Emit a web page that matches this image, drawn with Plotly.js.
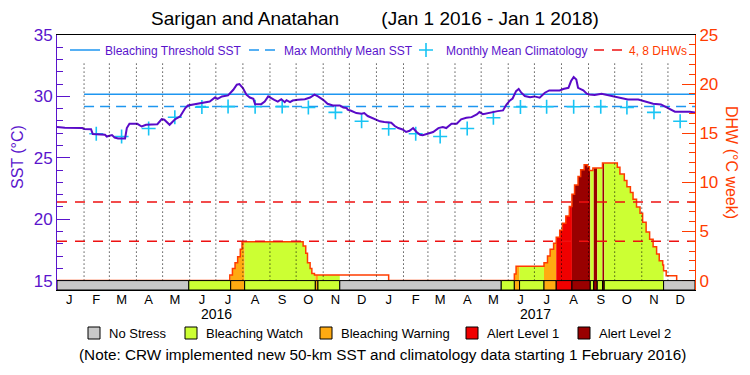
<!DOCTYPE html>
<html><head><meta charset="utf-8">
<script src="https://cdn.plot.ly/plotly-3.0.1.min.js"></script>
<style>html,body{margin:0;padding:0;background:#fff}</style>
</head><body><div id="chart" style="width:750px;height:375px"></div>
<script>
// ---------- DATA ----------
const periodStart = '2016-01-01';
const periodEnd = '2018-01-01';
const newDataStart = '2016-02-01';

const sstDates = ['2016-01-01','2016-01-10','2016-01-30','2016-02-01','2016-02-09','2016-02-11','2016-02-25','2016-02-27','2016-03-04','2016-03-07','2016-03-11','2016-03-19','2016-03-21','2016-03-24','2016-04-02','2016-04-07','2016-04-12','2016-04-25','2016-04-30','2016-05-03','2016-05-09','2016-05-15','2016-05-21','2016-05-27','2016-05-30','2016-06-07','2016-06-14','2016-06-18','2016-06-24','2016-06-30','2016-07-03','2016-07-08','2016-07-15','2016-07-21','2016-07-25','2016-07-28','2016-08-01','2016-08-05','2016-08-09','2016-08-13','2016-08-15','2016-08-22','2016-08-26','2016-08-30','2016-09-03','2016-09-06','2016-09-10','2016-09-14','2016-09-18','2016-09-20','2016-09-24','2016-09-27','2016-10-03','2016-10-11','2016-10-17','2016-10-22','2016-10-26','2016-11-01','2016-11-06','2016-11-12','2016-11-20','2016-11-24','2016-11-28','2016-11-29','2016-12-03','2016-12-09','2016-12-15','2016-12-18','2016-12-22','2016-12-30','2017-01-05','2017-01-10','2017-01-18','2017-01-22','2017-01-26','2017-01-31','2017-02-04','2017-02-08','2017-02-12','2017-02-16','2017-02-20','2017-02-23','2017-03-01','2017-03-07','2017-03-13','2017-03-18','2017-03-22','2017-03-28','2017-04-03','2017-04-08','2017-04-14','2017-04-20','2017-04-26','2017-04-29','2017-05-03','2017-05-07','2017-05-13','2017-05-20','2017-05-26','2017-05-30','2017-06-03','2017-06-06','2017-06-10','2017-06-13','2017-06-16','2017-06-20','2017-06-26','2017-07-01','2017-07-07','2017-07-13','2017-07-18','2017-07-30','2017-08-03','2017-08-09','2017-08-12','2017-08-15','2017-08-18','2017-08-20','2017-08-26','2017-08-30','2017-09-02','2017-09-08','2017-09-16','2017-09-23','2017-10-01','2017-10-10','2017-10-16','2017-10-28','2017-11-04','2017-11-14','2017-11-23','2017-11-29','2017-12-05','2017-12-09','2017-12-26','2018-01-01'];
const sstValues = [27.50,27.45,27.42,27.35,27.33,26.93,26.87,26.73,26.85,26.65,26.57,26.57,27.42,27.77,27.77,27.55,27.69,27.74,28.15,28.10,27.69,28.12,28.37,29.05,29.26,29.37,29.42,29.53,29.58,29.91,29.80,30.00,30.08,30.54,30.95,31.00,30.68,30.14,29.91,29.80,29.37,29.37,29.58,30.00,29.80,29.72,29.58,29.77,29.53,29.69,29.53,29.66,29.72,29.77,29.91,30.14,30.00,29.72,29.40,29.26,29.26,29.10,29.05,28.91,28.83,28.64,28.59,28.64,28.40,28.13,27.97,27.91,27.86,27.59,27.42,27.31,27.10,27.20,27.42,27.10,26.88,26.83,26.97,27.10,27.42,27.50,27.42,27.77,27.77,28.13,28.26,28.31,28.53,28.72,28.55,28.61,28.75,28.80,28.86,29.34,29.67,29.83,30.43,30.60,30.30,30.03,29.94,30.00,29.89,30.30,30.49,30.49,30.60,30.70,31.25,31.57,31.38,30.70,30.49,30.22,30.16,30.11,30.22,30.11,30.03,29.89,29.75,29.75,29.62,29.40,29.35,29.13,28.86,28.75,28.75,28.69];

const climDates = ['2016-02-15','2016-03-15','2016-04-15','2016-05-15','2016-06-15','2016-07-15','2016-08-15','2016-09-15','2016-10-15','2016-11-15','2016-12-15','2017-01-15','2017-02-15','2017-03-15','2017-04-15','2017-05-15','2017-06-15','2017-07-15','2017-08-15','2017-09-15','2017-10-15','2017-11-15','2017-12-15'];
const climValues = [26.96,26.74,27.39,28.30,29.13,29.17,29.16,29.17,29.10,28.70,27.97,27.36,26.96,26.74,27.39,28.26,29.14,29.16,29.16,29.16,29.10,28.70,27.98];

const bleachingThreshold = 30.18;
const maxMonthlyMean = 29.18;
const dhwLevels = [4, 8];

const dhwDates = ['2016-01-01','2016-07-17','2016-07-20','2016-07-23','2016-07-26','2016-07-29','2016-07-31','2016-10-09','2016-10-12','2016-10-14','2016-10-17','2016-10-19','2016-10-22','2017-01-15','2017-06-08','2017-06-10','2017-07-12','2017-07-16','2017-07-19','2017-07-23','2017-07-26','2017-07-30','2017-08-02','2017-08-06','2017-08-10','2017-08-13','2017-08-16','2017-08-20','2017-08-23','2017-08-27','2017-08-31','2017-09-02','2017-09-06','2017-09-17','2017-10-04','2017-10-07','2017-10-12','2017-10-15','2017-10-19','2017-10-22','2017-10-26','2017-10-30','2017-11-02','2017-11-06','2017-11-10','2017-11-14','2017-11-18','2017-11-21','2017-11-25','2017-11-26','2017-11-29','2017-12-11'];
const dhwValues = [0,0.56,1.24,1.82,2.43,3.18,3.96,3.52,2.78,1.82,1.24,0.73,0.56,0,0.66,1.45,1.82,2.5,3.18,3.8,4.4,5.12,5.84,6.58,7.53,8.8,9.74,10.6,11.28,11.79,11.6,11.2,11.45,11.96,11.55,10.84,10.18,9.54,8.96,8.28,7.5,6.86,5.94,4.95,4.2,3.45,2.7,2.02,1.58,1.0,0.49,0];

const statusStarts = ['2016-01-01','2016-05-31','2016-07-18','2016-08-03','2016-10-23','2016-10-26','2016-11-20','2017-05-24','2017-06-08','2017-06-14','2017-07-12','2017-07-26','2017-08-13','2017-09-03','2017-09-07','2017-09-11','2017-09-17','2017-09-19','2017-11-26'];
const statusLevels = [0,1,2,1,2,1,0,1,2,1,2,3,4,1,4,1,4,1,0];
const statusNames = ['No Stress','Bleaching Watch','Bleaching Warning','Alert Level 1','Alert Level 2'];

const monthLetters = ['J','F','M','A','M','J','J','A','S','O','N','D'];
const yearLabels = ['2016','2017'];

// ---------- STYLE ----------
const FONT = 'Liberation Sans, Arial, sans-serif';
const PURPLE = '#5a14cc';
const SSTCOL = '#5a0ac8';
const ORANGE = '#ff3c00';
const CYAN = '#1e96f0';
const CYANMK = '#18c4f4';
const DHWRED = '#ee1111';
const statusColors = ['#c8c8c8','#ccff33','#ffaa11','#f00000','#990000'];
const Y1RANGE = [14.233, 35];
const Y2RANGE = [-0.958, 25];
const W = 750, H = 375, ML = 57, MR = 55, MT = 35, MB = 85;
const PW = W - ML - MR, PH = H - MT - MB;
const px = x => (x - ML) / PW;
const py = y => (H - MB - y) / PH;
const NB = '\u00a0';

// ---------- TRACES ----------
const traces = [];
const T = dhwDates.map(d => Date.parse(d));
function dhwAt(t){ let v = 0; for (let i = 0; i < T.length; i++){ if (T[i] <= t) v = dhwValues[i]; else break; } return v; }
const statusEnds = statusStarts.slice(1).concat([periodEnd]);

statusStarts.forEach((s, i) => {
  const lvl = statusLevels[i];
  if (!lvl) return;
  const e = statusEnds[i];
  const ts = Date.parse(s), te = Date.parse(e);
  const xs = [s], ys = [dhwAt(ts)];
  T.forEach((t, j) => { if (t > ts && t < te){ xs.push(dhwDates[j]); ys.push(dhwValues[j]); } });
  xs.push(e); ys.push(ys[ys.length - 1]);
  traces.push({x: xs, y: ys, yaxis: 'y2', mode: 'lines', line: {shape: 'hv', width: 0, color: statusColors[lvl]},
    fill: 'tozeroy', fillcolor: statusColors[lvl], showlegend: false, hoverinfo: 'skip'});
});

traces.push({x: dhwDates, y: dhwValues, yaxis: 'y2', mode: 'lines', line: {shape: 'hv', width: 1.5, color: ORANGE}, showlegend: false, hoverinfo: 'skip'});

traces.push({x: [newDataStart, periodEnd], y: [bleachingThreshold, bleachingThreshold], mode: 'lines',
  line: {color: CYAN, width: 1.5}, name: 'Bleaching Threshold SST', legend: 'legend'});
traces.push({x: [newDataStart, periodEnd], y: [maxMonthlyMean, maxMonthlyMean], mode: 'lines',
  line: {color: CYAN, width: 1.5, dash: '10px,6px'}, name: 'Max Monthly Mean SST', legend: 'legend'});
traces.push({x: climDates, y: climValues, mode: 'markers',
  marker: {symbol: 'cross-thin-open', size: 10, color: CYANMK, line: {color: CYANMK, width: 1.6}}, name: 'Monthly Mean Climatology', legend: 'legend2'});
const lvX = [], lvY = [];
dhwLevels.forEach(l => { lvX.push(periodStart, periodEnd, null); lvY.push(l, l, null); });
traces.push({x: lvX, y: lvY, yaxis: 'y2', mode: 'lines', line: {color: DHWRED, width: 1.5, dash: '10px,8px'},
  name: '<span style="color:' + ORANGE + '">4, 8 DHWs</span>', legend: 'legend3'});

traces.push({x: sstDates, y: sstValues, mode: 'lines', line: {color: SSTCOL, width: 2}, showlegend: false, hoverinfo: 'skip'});

// ---------- LAYOUT ----------
const shapes = [];
statusStarts.forEach((s, i) => {
  shapes.push({type: 'rect', xref: 'x', yref: 'y2', x0: s, x1: statusEnds[i], y0: Y2RANGE[0], y1: 0,
    fillcolor: statusColors[statusLevels[i]], line: {color: '#000', width: 1}, layer: 'above'});
});
const tickVals = [], tickText = [], monthStarts = [];
yearLabels.forEach(y => {
  monthLetters.forEach((m, k) => {
    const mm = String(k + 1).padStart(2, '0');
    tickVals.push(y + '-' + mm + '-15'); tickText.push(m);
    if (!(y === yearLabels[0] && k === 0)) monthStarts.push(y + '-' + mm + '-01');
  });
});
monthStarts.forEach(d => {
  shapes.push({type: 'line', xref: 'x', yref: 'y2', x0: d, x1: d, y0: 0, y1: 22.3,
    line: {color: '#000', width: 1, dash: '1px,3px'}, layer: 'above'});
});

const annotations = [];
yearLabels.forEach(y => annotations.push({x: y + '-07-02', xref: 'x', y: py(314), yref: 'paper', text: y,
  showarrow: false, font: {family: FONT, size: 14, color: '#000'}, xanchor: 'center', yanchor: 'middle'}));
annotations.push({x: px(17), xref: 'paper', y: py(157), yref: 'paper', text: 'SST (°C)', textangle: -90,
  showarrow: false, font: {family: FONT, size: 16, color: PURPLE}, xanchor: 'center', yanchor: 'middle'});
annotations.push({x: px(732), xref: 'paper', y: py(162), yref: 'paper', text: 'DHW (°C week)', textangle: 90,
  showarrow: false, font: {family: FONT, size: 16, color: ORANGE}, xanchor: 'center', yanchor: 'middle'});

const boxX = [88, 185, 320, 466, 578];
statusNames.forEach((n, i) => {
  shapes.push({type: 'rect', xref: 'paper', yref: 'paper', x0: px(boxX[i]), x1: px(boxX[i] + 12), y0: py(339), y1: py(327),
    fillcolor: statusColors[i], line: {color: '#000', width: 1}});
  annotations.push({x: px(boxX[i] + 19), xref: 'paper', y: py(333), yref: 'paper', text: n, xanchor: 'left', yanchor: 'middle',
    showarrow: false, font: {family: FONT, size: 13, color: '#000'}});
});
annotations.push({x: px(382), xref: 'paper', y: py(354), yref: 'paper', text: '(Note: CRW implemented new 50-km SST and climatology data starting 1 February 2016)',
  showarrow: false, font: {family: FONT, size: 15.3, color: '#000'}, xanchor: 'center', yanchor: 'middle'});

const legendBase = {orientation: 'h', xanchor: 'left', y: py(50), yanchor: 'middle', bgcolor: 'rgba(0,0,0,0)',
  font: {family: FONT, size: 12, color: PURPLE}, itemwidth: 30};

const layout = {
  width: W, height: H, margin: {l: ML, r: MR, t: MT, b: MB, autoexpand: false},
  paper_bgcolor: '#fff', plot_bgcolor: '#fff',
  font: {family: FONT},
  title: {text: 'Sarigan and Anatahan' + NB.repeat(8) + '(Jan 1 2016 - Jan 1 2018)', font: {family: FONT, size: 19, color: '#000'},
    x: 0.5, xanchor: 'center', y: 1 - 18 / H, yanchor: 'middle'},
  showlegend: true,
  legend: Object.assign({}, legendBase, {x: px(65), entrywidth: 134, entrywidthmode: 'pixels'}),
  legend2: Object.assign({}, legendBase, {x: px(406)}),
  legend3: Object.assign({}, legendBase, {x: px(589)}),
  xaxis: {type: 'date', range: [periodStart, periodEnd], tickmode: 'array', tickvals: tickVals, ticktext: tickText,
    ticks: '', showgrid: false, zeroline: false, showline: true, linecolor: '#000', linewidth: 1, mirror: true,
    ticklabelstandoff: -3, tickfont: {family: FONT, size: 13, color: '#000'}, fixedrange: true},
  yaxis: {range: Y1RANGE, tickmode: 'linear', tick0: 15, dtick: 5, ticks: 'inside', ticklen: 13, tickcolor: PURPLE, tickwidth: 1,
    minor: {dtick: 1, tick0: 15, ticks: 'inside', ticklen: 6, tickcolor: PURPLE, showgrid: false},
    showline: true, linecolor: PURPLE, linewidth: 1, showgrid: false, zeroline: false,
    tickfont: {family: FONT, size: 17, color: PURPLE}, fixedrange: true},
  yaxis2: {range: Y2RANGE, overlaying: 'y', side: 'right', tickmode: 'linear', tick0: 0, dtick: 5, ticks: 'inside', ticklen: 13,
    tickcolor: ORANGE, tickwidth: 1, minor: {dtick: 1, tick0: 0, ticks: 'inside', ticklen: 6, tickcolor: ORANGE, showgrid: false},
    showline: true, linecolor: ORANGE, linewidth: 1, showgrid: false, zeroline: false,
    tickfont: {family: FONT, size: 17, color: ORANGE}, fixedrange: true},
  shapes: shapes, annotations: annotations
};
Plotly.newPlot('chart', traces, layout, {displayModeBar: false, staticPlot: true});
</script></body></html>
